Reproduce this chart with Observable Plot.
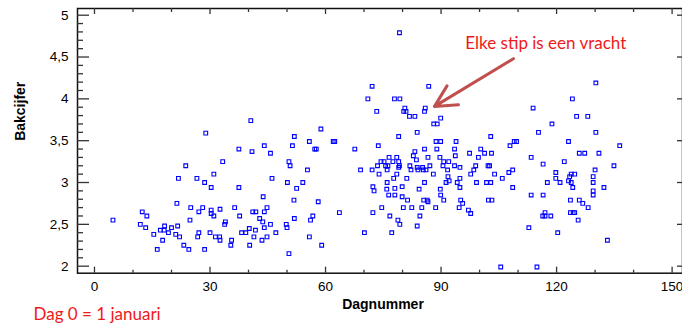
<!DOCTYPE html>
<html><head><meta charset="utf-8">
<script src="https://cdn.jsdelivr.net/npm/d3@7"></script>
<script src="https://cdn.jsdelivr.net/npm/@observablehq/plot@0.6"></script>
<style>body{margin:0;background:#fff}</style>
</head><body><div id="chart"></div>
<script>
// Early season loads (day 0 = 1 January)
const dagA = [40.6, 28.9, 44.1, 37.5, 40.9, 45.7, 33.3, 23.7, 31.0, 21.8,
  26.6, 28.6, 30.3, 37.5, 46.1, 43.8, 21.4, 25.0, 28.1, 27.1,
  30.3, 30.3, 32.6, 36.4, 31.0, 37.7, 41.1, 41.9, 44.1, 44.8,
  12.4, 13.6, 4.8, 24.8, 42.9, 43.7, 45.7, 34.0, 33.8, 11.9,
  13.3, 18.2, 18.1, 17.1, 20.0, 21.6, 19.2, 21.1, 22.1, 15.4,
  17.7, 16.3, 23.2, 24.5, 28.6, 27.1, 26.8, 30.0, 31.4, 32.5,
  32.6, 35.6, 35.4, 38.2, 39.3, 40.2, 41.8, 44.1, 41.4, 40.3,
  43.5, 44.8, 47.1];
const cijferA = [3.74, 3.59, 3.44, 3.40, 3.37, 3.35, 3.25, 3.20, 3.10, 3.05,
  3.05, 3.00, 2.94, 2.94, 3.05, 2.83, 2.75, 2.70, 2.70, 2.65,
  2.67, 2.63, 2.68, 2.70, 2.60, 2.60, 2.65, 2.65, 2.65, 2.70,
  2.65, 2.60, 2.55, 2.55, 2.57, 2.53, 2.50, 2.53, 2.50, 2.50,
  2.46, 2.48, 2.43, 2.43, 2.46, 2.48, 2.40, 2.38, 2.35, 2.38,
  2.31, 2.20, 2.25, 2.20, 2.20, 2.40, 2.35, 2.40, 2.35, 2.35,
  2.31, 2.31, 2.25, 2.40, 2.40, 2.45, 2.43, 2.46, 2.35, 2.25,
  2.31, 2.35, 2.40];
const dagB = [58.8, 51.9, 55.8, 62.0, 62.4, 51.4, 57.2, 57.6, 67.6, 50.5,
  50.8, 55.3, 50.1, 54.1, 52.5, 51.8, 58.1, 63.6, 51.9, 56.7,
  56.1, 49.8, 50.0, 55.8, 59.0, 50.5, 70.1, 79.2, 72.1, 86.8,
  71.0, 77.9, 79.3, 73.3, 80.6, 80.3, 80.9, 81.8, 83.2, 85.9,
  85.7, 89.9, 88.1, 89.0, 83.8, 79.0, 73.7, 88.7, 89.9, 85.7,
  88.9, 83.2, 82.8, 83.6, 86.6, 89.7, 90.7, 92.0, 69.1, 72.1,
  73.5, 74.4, 75.2, 76.5, 75.6, 76.2, 76.0, 78.5, 79.0, 79.2,
  79.0, 77.5, 73.9, 78.5, 77.7, 81.1, 81.9, 82.2, 83.8, 84.0,
  85.2, 85.4, 86.1, 87.1, 88.0, 90.5, 91.7, 76.0, 72.3, 75.9,
  78.0, 79.9, 84.3, 85.7, 89.8, 91.3, 72.6, 76.4, 78.0, 79.9,
  81.3, 85.5, 86.4, 86.6, 89.9, 90.7, 74.6, 80.2, 82.4, 85.0,
  88.6, 72.3, 76.7, 78.8, 79.3, 84.5, 83.8, 77.2];
const cijferB = [3.64, 3.55, 3.49, 3.49, 3.49, 3.44, 3.40, 3.40, 3.40, 3.25,
  3.20, 3.15, 3.00, 3.00, 2.93, 2.79, 2.77, 2.64, 2.57, 2.60,
  2.55, 2.50, 2.46, 2.35, 2.25, 2.15, 2.40, 4.79, 4.15, 4.15,
  4.00, 4.00, 4.00, 3.85, 3.89, 3.85, 3.85, 3.79, 3.79, 3.89,
  3.85, 3.77, 3.70, 3.70, 3.60, 3.55, 3.44, 3.49, 3.49, 3.40,
  3.40, 3.37, 3.32, 3.27, 3.30, 3.30, 3.25, 3.25, 3.15, 3.15,
  3.20, 3.25, 3.25, 3.30, 3.20, 3.20, 3.15, 3.30, 3.25, 3.20,
  3.18, 3.25, 3.10, 3.10, 3.05, 3.05, 3.20, 3.15, 3.18, 3.15,
  3.18, 3.15, 3.15, 3.20, 3.10, 3.20, 3.15, 3.00, 2.95, 2.92,
  2.93, 2.95, 2.92, 3.00, 2.92, 3.00, 2.90, 2.85, 2.85, 2.83,
  2.79, 2.79, 2.79, 2.77, 2.85, 2.79, 2.70, 2.70, 2.70, 2.70,
  2.70, 2.64, 2.60, 2.55, 2.50, 2.60, 2.48, 2.40];
const dagC = [130.2, 124.1, 113.9, 125.2, 128.1, 118.8, 115.3, 130.2, 93.9, 102.9,
  109.0, 109.6, 107.9, 123.1, 136.4, 93.5, 93.7, 97.4, 100.3, 101.3,
  103.1, 99.7, 113.4, 116.5, 122.0, 125.9, 127.3, 131.0, 134.9, 93.5,
  94.9, 99.0, 102.2, 102.6, 98.5, 97.7, 103.9, 107.6, 108.6, 105.9,
  91.8, 92.1, 94.9, 94.2, 99.2, 101.8, 102.9, 108.6, 94.9, 119.8,
  119.8, 123.8, 124.7, 123.4, 123.1, 130.0, 129.5, 129.5, 117.6, 120.9,
  123.8, 124.2, 132.3, 95.1, 95.6, 94.7, 97.1, 97.7, 102.3, 103.2,
  113.4, 116.5, 117.0, 116.4, 117.0, 118.5, 112.8, 120.3, 123.6, 125.9,
  126.8, 128.2, 123.6, 124.3, 124.7, 125.6, 129.5, 129.5, 133.2, 105.5,
  114.9];
const cijferC = [4.19, 4.00, 3.89, 3.79, 3.79, 3.70, 3.60, 3.60, 3.49, 3.55,
  3.49, 3.49, 3.44, 3.49, 3.44, 3.40, 3.32, 3.35, 3.40, 3.35,
  3.35, 3.30, 3.30, 3.22, 3.25, 3.35, 3.35, 3.35, 3.20, 3.20,
  3.18, 3.20, 3.20, 3.20, 3.15, 3.10, 3.10, 3.12, 3.15, 3.05,
  3.07, 3.02, 3.05, 3.00, 3.00, 3.00, 3.00, 2.94, 2.94, 3.12,
  3.05, 3.10, 3.10, 3.07, 3.02, 3.15, 3.07, 3.00, 3.00, 3.00,
  3.00, 2.94, 2.94, 2.79, 2.75, 2.70, 2.67, 2.63, 2.79, 2.79,
  2.85, 2.85, 2.64, 2.60, 2.60, 2.60, 2.46, 2.40, 2.79, 2.79,
  2.75, 2.70, 2.64, 2.64, 2.64, 2.55, 2.90, 2.85, 2.31, 1.99,
  1.99];

const xTicks = [0, 30, 60, 90, 120, 150];
const xMinorTicks = [10, 20, 40, 50, 70, 80, 100, 110, 130, 140];
const yTicks = [2, 2.5, 3, 3.5, 4, 4.5, 5];
const yTickLabels = ["2", "2,5", "3", "3,5", "4", "4,5", "5"];
const yMinorTicks = d3.range(21, 50).filter(v => v % 5 !== 0).map(v => v / 10);
const xLabel = "Dagnummer";
const yLabel = "Bakcijfer";
const captionText = "Dag 0 = 1 januari";
const notes = [{text: "Elke stip is een vracht", dag: 96.3, cijfer: 4.60}];
const arrows = [{dag1: 108.8, cijfer1: 4.48, dag2: 88.3, cijfer2: 3.91}];

const loads = [
  ...dagA.map((d, i) => ({dag: d, cijfer: cijferA[i]})),
  ...dagB.map((d, i) => ({dag: d, cijfer: cijferB[i]})),
  ...dagC.map((d, i) => ({dag: d, cijfer: cijferC[i]}))
];

const W = 682, H = 323, mL = 77, mR = 0, mT = 8, mB = 50.3;
const fw = W - mL - mR, fh = H - mT - mB;
const tickColor = "#333";
const red = "#f01818";

const chart = Plot.plot({
  width: W, height: H,
  marginLeft: mL, marginRight: mR, marginTop: mT, marginBottom: mB,
  x: {domain: [-4.41, 152.7]},
  y: {domain: [1.916, 5.08]},
  style: {fontFamily: "'Liberation Sans', Arial, sans-serif", fontSize: "13.5px", color: "#000", background: "#fff"},
  marks: [
    Plot.frame({stroke: "#111", strokeWidth: 1.5}),
    // inward ticks
    Plot.tickX(xTicks, {x: d => d, insetTop: fh - 6, stroke: tickColor, strokeWidth: 1.3}),
    Plot.tickX(xMinorTicks, {x: d => d, insetTop: fh - 3, stroke: tickColor, strokeWidth: 1.3}),
    Plot.tickX(xTicks, {x: d => d, insetBottom: fh - 6, stroke: tickColor, strokeWidth: 1.3}),
    Plot.tickX(xMinorTicks, {x: d => d, insetBottom: fh - 4, stroke: tickColor, strokeWidth: 1.3}),
    Plot.tickY(yTicks, {y: d => d, insetRight: fw - 12, stroke: tickColor, strokeWidth: 1.3}),
    Plot.tickY(yMinorTicks, {y: d => d, insetRight: fw - 6, stroke: tickColor, strokeWidth: 1.3}),
    Plot.tickY(yTicks, {y: d => d, insetLeft: fw - 5, stroke: tickColor, strokeWidth: 1.3}),
    Plot.axisX(xTicks, {tickSize: 0, tickPadding: 8, label: null, fontSize: 13.5}),
    Plot.axisY(yTicks, {tickSize: 0, tickPadding: 9, label: null, fontSize: 13.5,
      tickFormat: d => yTickLabels[yTicks.indexOf(d)]}),
    Plot.dot(loads, {x: "dag", y: "cijfer", symbol: "square", r: 2.1, stroke: "#0000ff", fill: "none", strokeWidth: 1.1}),
    Plot.arrow(arrows, {x1: "dag1", y1: "cijfer1", x2: "dag2", y2: "cijfer2",
      stroke: "#c0504d", strokeWidth: 3, headLength: 12, headAngle: 55}),
    Plot.text(notes, {x: "dag", y: "cijfer", text: "text", textAnchor: "start", lineAnchor: "bottom",
      fill: red, fontSize: 17, fontFamily: "Lato, 'Open Sans', sans-serif"}),
    Plot.text([xLabel], {text: d => d, frameAnchor: "bottom", dx: 3, dy: 35.5, lineAnchor: "bottom",
      fontWeight: "bold", fontSize: 14}),
    Plot.text([yLabel], {text: d => d, frameAnchor: "left", dx: -52.5, rotate: -90, lineAnchor: "bottom",
      fontWeight: "bold", fontSize: 14}),
    Plot.text([captionText], {text: d => d, frameAnchor: "bottom-left", dx: -44, dy: 47, textAnchor: "start",
      lineAnchor: "bottom", fill: red, fontSize: 17, fontFamily: "Lato, 'Open Sans', sans-serif"})
  ]
});
document.getElementById("chart").appendChild(chart);
</script>
</body></html>
